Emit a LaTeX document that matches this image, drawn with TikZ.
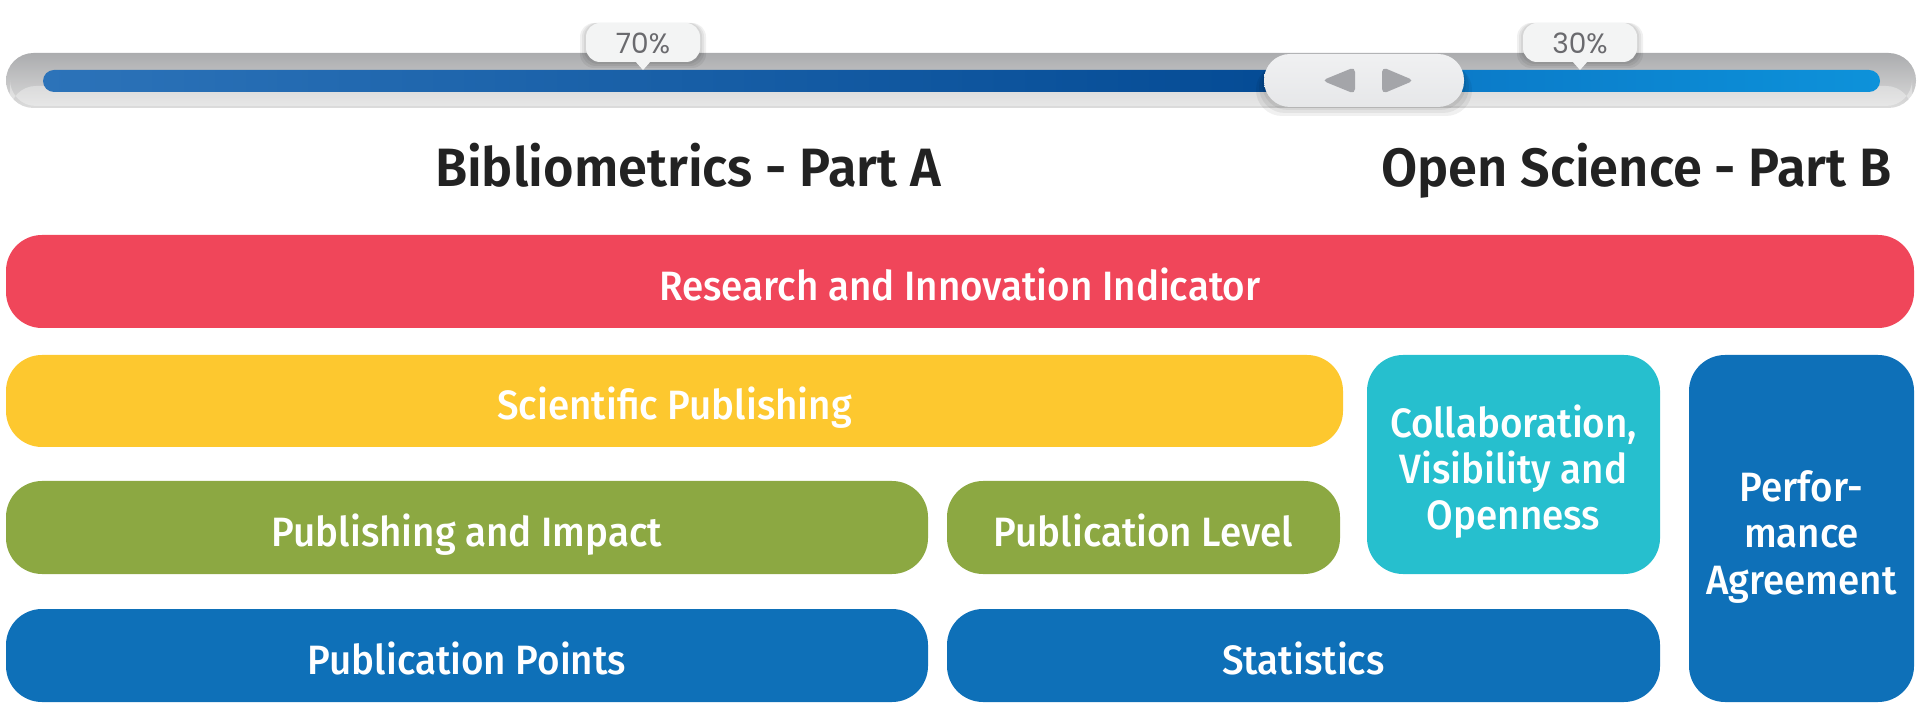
\documentclass[tikz,border=0pt]{standalone}
\usepackage{fontspec}
\setmainfont{Fira Sans}
\newfontfamily\pctfont{Poppins}
\IfFontExistsTF{Fira Sans Medium}
  {\newfontfamily\boxfam{Fira Sans Medium}[FakeStretch=0.94]\newcommand\boxfont{\boxfam}}
  {\newfontfamily\boxfam{Fira Sans}[FakeStretch=0.92]\newcommand\boxfont{\boxfam\bfseries}}
\IfFontExistsTF{Fira Sans SemiBold}
  {\newfontfamily\titlefam{Fira Sans SemiBold}[FakeStretch=0.97]\newcommand\titlefont{\titlefam}}
  {\newfontfamily\titlefam{Fira Sans}[FakeStretch=0.95]\newcommand\titlefont{\titlefam\bfseries}}
\definecolor{cRed}{HTML}{F0465A}
\definecolor{cYellow}{HTML}{FDC82F}
\definecolor{cGreen}{HTML}{8CA842}
\definecolor{cTeal}{HTML}{26BFCE}
\definecolor{cBlue}{HTML}{0E70B8}
\definecolor{cTitle}{HTML}{222222}
\definecolor{cTrackTop}{HTML}{ABACAE}
\definecolor{cTrackBot}{HTML}{DCDCDC}
\definecolor{cBarA}{HTML}{2C73B9}
\definecolor{cBarB}{HTML}{034A94}
\definecolor{cBarC}{HTML}{0A72C2}
\definecolor{cBarD}{HTML}{0D92DA}
\definecolor{cKnob}{HTML}{E6E7E9}
\definecolor{cArrow}{HTML}{A4A5A9}
\definecolor{cPct}{HTML}{6A6A6E}
\definecolor{cBubble}{HTML}{F3F4F4}
\begin{document}
\begin{tikzpicture}[x=0.5pt,y=-0.5pt,
  box/.style={rounded corners=18pt, inner sep=0pt, text=white, align=center,
    font=\boxfont\fontsize{20.5}{23.25}\selectfont},
  oneline/.style={text height=19pt, text depth=0pt},
  threeline/.style={text height=65.5pt, text depth=0pt},
  title/.style={text=cTitle, inner sep=0pt, font=\titlefont\fontsize{27}{32}\selectfont},
  pct/.style={text=cPct, inner sep=0pt, font=\pctfont\fontsize{14}{16}\selectfont},
  bubble/.style={fill=cBubble},
  softshadow/.style={fill=black, opacity=0.06}]
\useasboundingbox (0,0) rectangle (1920,715);

% slider track
\shade[top color=cTrackTop, bottom color=cTrackBot, rounded corners=13.75pt]
  (6,53) rectangle (1916,108);
\fill[white, opacity=0.35, rounded corners=13pt] (10,86) rectangle (1912,106);
% blue bar
\shade[left color=cBarA, right color=cBarB, rounded corners=5.5pt]
  (43,70) rectangle (1320,92);
\shade[left color=cBarC, right color=cBarD, rounded corners=5.5pt]
  (1300,70) rectangle (1880,92);

% knob
\foreach \d in {2,5,8}{
  \fill[softshadow, rounded corners=13pt] (1264-\d,56+\d) rectangle (1464+\d,108+\d);
}
\shade[top color=cKnob!60!white, bottom color=cKnob, rounded corners=13pt]
  (1264,54) rectangle (1464,107);
\node[inner sep=0pt] (knob) at (1364,80.5) {};
\fill[cArrow, rounded corners=2.5pt] (1322,80.5) -- (1355,67) -- (1355,94) -- cycle;
\fill[cArrow, rounded corners=2.5pt] (1414,80.5) -- (1382,67) -- (1382,94) -- cycle;

% bubbles
\foreach \cx/\lab/\nm in {643/70\%/pA, 1580/30\%/pB}{
  \foreach \d in {2,4,6}{
    \fill[softshadow, rounded corners=7pt] (\cx-57-\d,23) rectangle (\cx+57+\d,62+\d);
  }
  \fill[bubble, rounded corners=7pt] (\cx-57,23) rectangle (\cx+57,62);
  \fill[bubble] (\cx-8,61) -- (\cx,70) -- (\cx+8,61) -- cycle;
  \node[pct] (\nm) at (\cx,43) {\lab};
}

% titles
\node[title, anchor=base] (tA) at (688,187) {Bibliometrics - Part A};
\node[title, anchor=base east] (tB) at (1892,187) {Open Science - Part B};

% boxes
\node[box, oneline, fill=cRed, minimum width=954pt, minimum height=46.5pt] (rii) at (960,281.5)
  {Research and Innovation Indicator};
\node[box, oneline, fill=cYellow, minimum width=668.5pt, minimum height=46pt] (sp) at (674.5,401)
  {Scientific Publishing};
\node[box, oneline, fill=cGreen, minimum width=461pt, minimum height=46.5pt] (pi) at (467,527.5)
  {Publishing and Impact};
\node[box, oneline, fill=cGreen, minimum width=196.5pt, minimum height=46.5pt] (pl) at (1143.5,527.5)
  {Publication Level};
\node[box, oneline, fill=cBlue, minimum width=461pt, minimum height=46.5pt] (pp) at (467,655.5)
  {Publication Points};
\node[box, oneline, fill=cBlue, minimum width=356.5pt, minimum height=46.5pt] (st) at (1303.5,655.5)
  {Statistics};
\node[box, threeline, fill=cTeal, minimum width=146.5pt, minimum height=109.5pt] (cvo) at (1513.5,464.5)
  {Collaboration,\\Visibility and\\Openness};
\node[box, threeline, fill=cBlue, minimum width=112.5pt, minimum height=173.5pt] (pa) at (1801.5,528.5)
  {Perfor-\\mance\\Agreement};
\end{tikzpicture}
\end{document}
